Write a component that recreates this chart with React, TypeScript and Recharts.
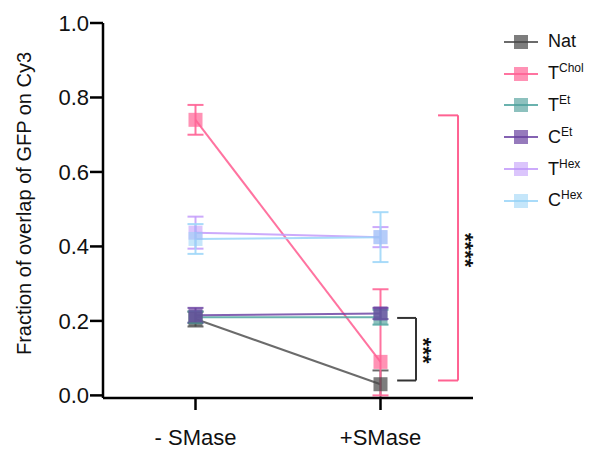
import { LineChart, Line, XAxis, YAxis, ErrorBar, ReferenceLine, ReferenceDot } from 'recharts';

// conditions on the x axis (placed at band centres 0.5, 1.5 of a 0..2 axis)
const conditions = ['- SMase', '+SMase'];
const condPos = [0.5, 1.5];

// series: key, base label, superscript
const seriesKeys = ['nat', 'tChol', 'tEt', 'cEt', 'tHex', 'cHex'];
const seriesBase = ['Nat', 'T', 'T', 'C', 'T', 'C'];
const seriesSup = ['', 'Chol', 'Et', 'Et', 'Hex', 'Hex'];

// values per series, [-SMase, +SMase]
const nat = [0.205, 0.03];
const tChol = [0.74, 0.09];
const tEt = [0.21, 0.21];
const cEt = [0.215, 0.22];
const tHex = [0.437, 0.425];
const cHex = [0.42, 0.425];

// error (SD) per series; pairs are [down, up]
const natErr: (number | number[])[] = [0.02, 0.037];
const tCholErr: (number | number[])[] = [0.04, [0.09, 0.195]];
const tEtErr: (number | number[])[] = [0.015, 0.02];
const cEtErr: (number | number[])[] = [0.02, 0.015];
const tHexErr: (number | number[])[] = [0.043, 0.027];
const cHexErr: (number | number[])[] = [0.04, 0.067];

const yTicks = [0, 0.2, 0.4, 0.6, 0.8, 1.0];

const values = [nat, tChol, tEt, cEt, tHex, cHex];
const errors = [natErr, tCholErr, tEtErr, cEtErr, tHexErr, cHexErr];

const lineColors = ['rgba(70,70,70,0.8)', 'rgba(255,100,150,0.9)', 'rgba(80,165,160,0.85)', 'rgba(110,70,165,0.85)', 'rgba(195,155,250,0.85)', 'rgba(160,215,248,0.9)'];
const fillColors = ['rgba(70,70,70,0.7)', 'rgba(255,100,150,0.7)', 'rgba(80,160,155,0.65)', 'rgba(105,65,160,0.7)', 'rgba(190,150,250,0.55)', 'rgba(150,210,245,0.55)'];

const data = conditions.map((c, i) => {
  const row: Record<string, any> = { x: condPos[i], cond: c };
  seriesKeys.forEach((k, s) => {
    row[k] = values[s][i];
    row[k + 'Err'] = errors[s][i];
  });
  return row;
});

const FONT = '"Liberation Sans", Arial, Helvetica, sans-serif';
const PINK = 'rgba(255,90,140,0.95)';

function squareDot(fill: string) {
  return (p: any) => (
    <rect key={`${p.dataKey}-${p.index}`} x={p.cx - 7} y={p.cy - 7} width={14} height={14} fill={fill} />
  );
}

function Stars({ cx, cy, text }: any) {
  return (
    <text x={cx} y={cy} transform={`rotate(90 ${cx} ${cy})`} textAnchor="middle" dominantBaseline="central"
      fontFamily={FONT} fontSize={22} fontWeight="bold" fill="#111" dy={5}>
      {text}
    </text>
  );
}

export default function App() {
  return (
    <div style={{ position: 'absolute', left: 0, top: 0, width: 590, height: 450, background: '#fff' }}>
      <LineChart width={590} height={450} data={data} margin={{ top: 23, right: 117, bottom: 0, left: 0 }}>
        <XAxis dataKey="x" type="number" domain={[0, 2]} ticks={condPos} height={52} stroke="#000" strokeWidth={2.5}
          tickFormatter={(v: number) => conditions[condPos.indexOf(v)]}
          tickSize={12} tickMargin={19} tick={{ fill: '#111', fontSize: 22, fontFamily: FONT }} />
        <YAxis domain={[0, 1]} ticks={yTicks} width={103} stroke="#000" strokeWidth={2.5} tickSize={13} tickMargin={1}
          tickFormatter={(v: number) => v.toFixed(1)} tick={{ fill: '#111', fontSize: 22, fontFamily: FONT }}
          label={{
            content: ({ viewBox }: any) => {
              const cy = viewBox.y + viewBox.height / 2 - 7;
              return (
                <text x={24} y={cy} transform={`rotate(-90 24 ${cy})`} textAnchor="middle" dominantBaseline="central"
                  fontFamily={FONT} fontSize={20} fill="#111">
                  Fraction of overlap of GFP on Cy3
                </text>
              );
            },
          }} />
        {seriesKeys.map((k, s) => (
          <Line key={k} dataKey={k} stroke={lineColors[s]} strokeWidth={2} dot={squareDot(fillColors[s])}
            activeDot={false} isAnimationActive={false}>
            <ErrorBar dataKey={k + 'Err'} width={8} stroke={lineColors[s]} strokeWidth={2} direction="y" />
          </Line>
        ))}
        {/* *** bracket: Nat vs TEt/CEt at +SMase */}
        <ReferenceLine segment={[{ x: 1.59, y: 0.208 }, { x: 1.692, y: 0.208 }]} stroke="#333" strokeWidth={2} ifOverflow="visible" />
        <ReferenceLine segment={[{ x: 1.692, y: 0.208 }, { x: 1.692, y: 0.04 }]} stroke="#333" strokeWidth={2} ifOverflow="visible" />
        <ReferenceLine segment={[{ x: 1.59, y: 0.04 }, { x: 1.692, y: 0.04 }]} stroke="#333" strokeWidth={2} ifOverflow="visible" />
        <ReferenceDot x={1.757} y={0.12} r={0} ifOverflow="visible" shape={(p: any) => <Stars {...p} text="***" />} />
        {/* **** bracket: TChol - vs + */}
        <ReferenceLine segment={[{ x: 1.811, y: 0.752 }, { x: 1.919, y: 0.752 }]} stroke={PINK} strokeWidth={2} ifOverflow="visible" />
        <ReferenceLine segment={[{ x: 1.919, y: 0.752 }, { x: 1.919, y: 0.04 }]} stroke={PINK} strokeWidth={2} ifOverflow="visible" />
        <ReferenceLine segment={[{ x: 1.811, y: 0.04 }, { x: 1.919, y: 0.04 }]} stroke={PINK} strokeWidth={2} ifOverflow="visible" />
        <ReferenceDot x={1.984} y={0.39} r={0} ifOverflow="visible" shape={(p: any) => <Stars {...p} text="****" />} />
      </LineChart>
      <div style={{ position: 'absolute', left: 503, top: 26, fontFamily: FONT, color: '#111' }}>
        {seriesKeys.map((k, s) => (
          <div key={k} style={{ display: 'flex', alignItems: 'center', height: 31.8 }}>
            <svg width={36} height={16} style={{ marginRight: 9 }}>
              <line x1={1} y1={8} x2={35} y2={8} stroke={lineColors[s]} strokeWidth={2} />
              <rect x={11} y={1} width={14} height={14} fill={fillColors[s]} />
            </svg>
            <span style={{ fontSize: 18, whiteSpace: 'nowrap' }}>
              {seriesBase[s]}
              {seriesSup[s] && <sup style={{ fontSize: 12, verticalAlign: 0, position: 'relative', top: -7 }}>{seriesSup[s]}</sup>}
            </span>
          </div>
        ))}
      </div>
    </div>
  );
}
